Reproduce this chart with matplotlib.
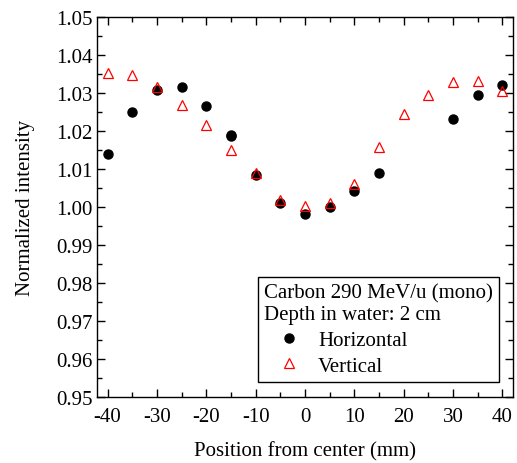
import matplotlib.pyplot as plt
from matplotlib.ticker import MultipleLocator

plt.rcParams['font.family'] = ['Liberation Serif', 'DejaVu Serif']

# Horizontal profile (black dots)
pos_h = [-40, -35, -30, -25, -20, -15, -15, -10, -5, 0, 5, 10, 15, 30, 35, 40]
int_h = [1.0139, 1.0249, 1.0307, 1.0316, 1.0265, 1.0191, 1.0187, 1.0084,
         1.0012, 0.9981, 0.9999, 1.0042, 1.0089, 1.0232, 1.0294, 1.0321]

# Vertical profile (red open triangles)
pos_v = [-40, -35, -30, -25, -20, -15, -10, -5, 0, 5, 10, 15, 20, 25, 30, 35, 40]
int_v = [1.0353, 1.0347, 1.0316, 1.0268, 1.0216, 1.0149, 1.0089, 1.0018,
         1.0003, 1.0012, 1.0061, 1.0158, 1.0246, 1.0296, 1.0330, 1.0331, 1.0306]

fig = plt.figure(figsize=(5.17, 4.64), dpi=100)
ax = fig.add_axes([0.188, 0.142, 0.804, 0.819])

ax.plot(pos_h, int_h, 'o', color='black', markersize=6.5, label='Horizontal')
ax.plot(pos_v, int_v, '^', markerfacecolor='none', markeredgecolor='red',
        markeredgewidth=0.9, markersize=7, label='Vertical')

ax.set_xlim(-42.1, 42.1)
ax.set_ylim(0.95, 1.05)
ax.xaxis.set_major_locator(MultipleLocator(10))
ax.xaxis.set_minor_locator(MultipleLocator(5))
ax.yaxis.set_major_locator(MultipleLocator(0.01))
ax.yaxis.set_minor_locator(MultipleLocator(0.005))
ax.yaxis.set_major_formatter(plt.FormatStrFormatter('%.2f'))
ax.xaxis.set_major_formatter(plt.FuncFormatter(lambda v, p: '%d' % v))
ax.tick_params(which='both', direction='in', top=True, right=True, labelsize=15, width=1)
ax.tick_params(which='major', length=6)
ax.tick_params(which='minor', length=3.5)
ax.tick_params(axis='x', pad=7)
for s in ax.spines.values():
    s.set_linewidth(1)

ax.set_xlabel('Position from center (mm)', fontsize=15, labelpad=11)
ax.set_ylabel('Normalized intensity', fontsize=15, labelpad=15)

leg = ax.legend(title='Carbon 290 MeV/u (mono)\nDepth in water: 2 cm', loc='lower right',
                bbox_to_anchor=(0.9666, 0.0397), borderaxespad=0,
                fontsize=15, title_fontsize=15,
                frameon=True, fancybox=False, edgecolor='black', framealpha=1,
                alignment='left', handlelength=2.4, handletextpad=0.2,
                borderpad=0.3, labelspacing=0.3)
leg.get_frame().set_linewidth(1)

fig.savefig('out.png', dpi=100)
